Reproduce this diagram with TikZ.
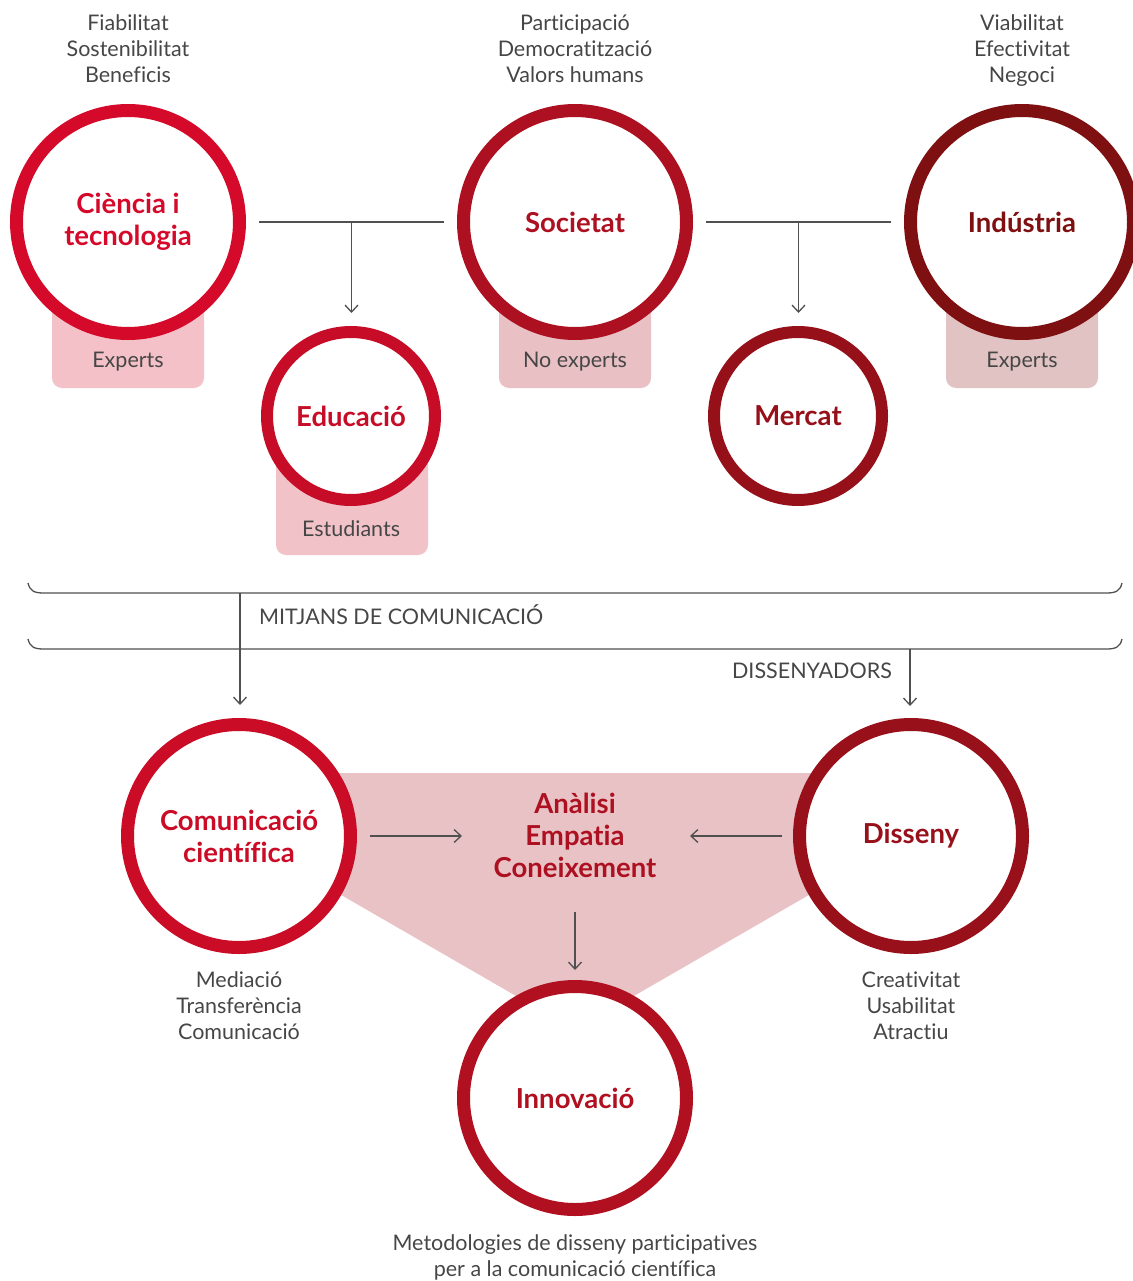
\documentclass[tikz,border=0pt]{standalone}
\usepackage{fontspec}
\setmainfont[Ligatures=NoCommon]{Lato}
\usetikzlibrary{arrows.meta,calc}

% ring colours
\definecolor{rCien}{RGB}{213,10,42}
\definecolor{rSoc}{RGB}{173,16,32}
\definecolor{rInd}{RGB}{126,16,18}
\definecolor{rEdu}{RGB}{198,12,38}
\definecolor{rMer}{RGB}{150,16,26}
\definecolor{rCom}{RGB}{202,12,38}
\definecolor{rDis}{RGB}{152,16,26}
\definecolor{rInn}{RGB}{176,16,32}
% soft fills
\definecolor{fCien}{RGB}{243,193,199}
\definecolor{fSoc}{RGB}{233,192,196}
\definecolor{fInd}{RGB}{225,195,195}
\definecolor{fEdu}{RGB}{241,195,201}
\definecolor{fMid}{RGB}{233,194,198}
% greys
\definecolor{txt}{RGB}{70,70,70}
\definecolor{lne}{RGB}{80,80,80}

\tikzset{
  ring/.style={circle, draw=#1, text=#1, fill=white, line width=13pt,
    minimum size=223pt, inner sep=0pt, align=center,
    font=\fontsize{27.5}{32}\selectfont\bfseries},
  smallring/.style={ring=#1, line width=12pt, minimum size=168pt},
  note/.style={align=center, text=txt, inner sep=0pt,
    font=\fontsize{21.5}{26}\selectfont},
  tagbox/.style={rounded corners=10pt, fill=#1},
  ln/.style={draw=lne, line width=1.3pt},
  arr/.style={ln, -{Straight Barb[length=7pt,width=13pt]}},
}

\begin{document}
\begin{tikzpicture}[x=1pt, y=-1pt]
\useasboundingbox (0,0) rectangle (1132,1281);

% shaded band joining the lower circles
\fill[fMid] (239,773) -- (911,773) -- (911,836) -- (575,1030) -- (239,836) -- cycle;

% tag boxes under the circles
\fill[tagbox=fCien] (52,290) rectangle (204,388);
\fill[tagbox=fSoc]  (499,290) rectangle (651,388);
\fill[tagbox=fInd]  (946,290) rectangle (1098,388);
\fill[tagbox=fEdu]  (276,440) rectangle (428,555);

\node[note] (tCien) at (128,362) {Experts};
\node[note] (tSoc)  at (575,362) {No experts};
\node[note] (tInd)  at (1022,362) {Experts};
\node[note] (tEdu)  at (351,529) {Estudiants};

% upper row
\node[ring=rCien] (cien) at (128,222) {Ciència i\\tecnologia};
\node[ring=rSoc]  (soc)  at (575,222) {Societat};
\node[ring=rInd]  (ind)  at (1022,222) {Indústria};
\node[smallring=rEdu] (edu) at (351,416) {Educació};
\node[smallring=rMer] (mer) at (798,416) {Mercat};

% keyword lists (anchored on the baseline of their last line)
\node[note, anchor=base] (qCien) at (128,83) {Fiabilitat\\Sostenibilitat\\Beneficis};
\node[note, anchor=base] (qSoc)  at (575,83) {Participació\\Democratització\\Valors humans};
\node[note, anchor=base] (qInd)  at (1022,83) {Viabilitat\\Efectivitat\\Negoci};

% links between the upper circles
\draw[ln] ([xshift=13pt]cien.east) -- coordinate[pos=0.5] (m1) ([xshift=-13pt]soc.west);
\draw[ln] ([xshift=13pt]soc.east) -- coordinate[pos=0.5] (m2) ([xshift=-13pt]ind.west);
\draw[arr] (m1) -- ([yshift=13pt]m1 |- edu.north);
\draw[arr] (m2) -- ([yshift=13pt]m2 |- mer.north);

% media bands
\coordinate (b1) at (240,593);
\coordinate (b2) at (910,649);
\draw[ln] (28,583) .. controls (30,591) and (34,593) .. (44,593) -- (1106,593)
  .. controls (1116,593) and (1120,591) .. (1122,583);
\draw[ln] (28,639) .. controls (30,647) and (34,649) .. (44,649) -- (1106,649)
  .. controls (1116,649) and (1120,647) .. (1122,639);
\node[note, anchor=west] (media) at (259,615) {MITJANS DE COMUNICACIÓ};
\node[note, anchor=east] (dsgn) at (892,671) {DISSENYADORS};

% lower row
\node[ring=rCom] (com) at (239,836) {Comunicació\\científica};
\node[ring=rDis] (dis) at (911,836) {Disseny};
\node[ring=rInn] (inn) at (575,1098) {Innovació};
\node[align=center, text=rSoc, inner sep=0pt,
  font=\fontsize{27.5}{32}\selectfont\bfseries] (mid) at (575,835)
  {Anàlisi\\Empatia\\Coneixement};

\draw[arr] (b1) -- ([yshift=13pt]b1 |- com.north);
\draw[arr] (b2) -- ([yshift=12pt]b2 |- dis.north);

\draw[arr] ([xshift=13pt]com.east) -- ([xshift=-113pt]mid.center |- com.east);
\draw[arr] ([xshift=-11pt]dis.west) -- ([xshift=115pt]mid.center |- dis.west);
\draw[arr] ([yshift=-77pt]mid.center) -- ([yshift=10pt]inn.north);

\node[note, anchor=base] (qCom) at (239,1039) {Mediació\\Transferència\\Comunicació};
\node[note, anchor=base] (qDis) at (911,1039) {Creativitat\\Usabilitat\\Atractiu};
\node[note, anchor=base] (qInn) at (575,1276) {Metodologies de disseny participatives\\per a la comunicació científica};
\end{tikzpicture}
\end{document}
